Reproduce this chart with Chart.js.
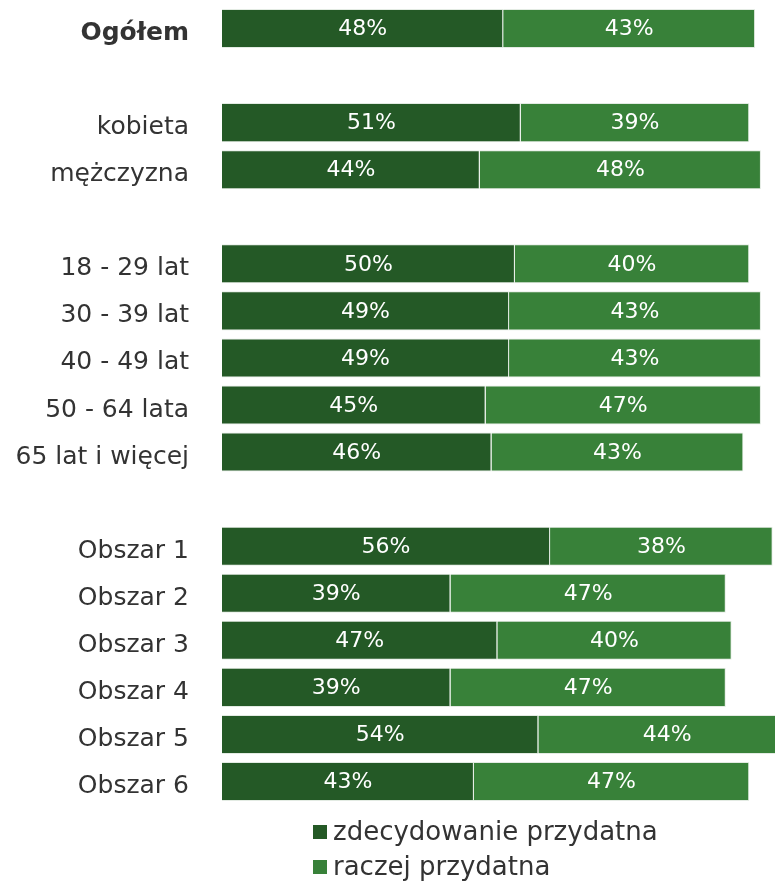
<!DOCTYPE html>
<html>
<head>
<meta charset="utf-8">
<script src="https://cdn.jsdelivr.net/npm/chart.js@4"></script>
<style>
  html, body { margin: 0; padding: 0; background: #fff; }
  #wrap { width: 775px; height: 881px; }
</style>
</head>
<body>
<div id="wrap"><canvas id="barChart"></canvas></div>
<script>
// categories (empty strings are spacer rows)
const categories = ['Ogółem', '', 'kobieta', 'mężczyzna', '', '18 - 29 lat', '30 - 39 lat', '40 - 49 lat',
  '50 - 64 lata', '65 lat i więcej', '', 'Obszar 1', 'Obszar 2', 'Obszar 3', 'Obszar 4', 'Obszar 5', 'Obszar 6'];
const definitelyUseful = [48, null, 51, 44, null, 50, 49, 49, 45, 46, null, 56, 39, 47, 39, 54, 43];
const ratherUseful = [43, null, 39, 48, null, 40, 43, 43, 47, 43, null, 38, 47, 40, 47, 44, 47];
const seriesLabels = ['zdecydowanie przydatna', 'raczej przydatna'];

const FONT = "'DejaVu Sans', sans-serif";
const darkGreen = '#245926';
const lightGreen = '#388139';

// value labels centred in each segment
const valueLabels = {
  id: 'valueLabels',
  afterDatasetsDraw(chart) {
    const ctx = chart.ctx;
    ctx.save();
    ctx.font = '22px ' + FONT;
    ctx.fillStyle = '#ffffff';
    ctx.textAlign = 'center';
    ctx.textBaseline = 'middle';
    chart.data.datasets.forEach((ds, i) => {
      chart.getDatasetMeta(i).data.forEach((bar, j) => {
        const v = ds.data[j];
        if (v == null) return;
        ctx.fillText(v + '%', (bar.x + bar.base) / 2, bar.y + 1);
      });
    });
    ctx.restore();
  }
};

// vertical legend under the bars
const stackedLegend = {
  id: 'stackedLegend',
  afterDraw(chart) {
    const ctx = chart.ctx;
    const top = chart.chartArea.bottom;
    ctx.save();
    ctx.font = '26px ' + FONT;
    ctx.textBaseline = 'middle';
    ctx.textAlign = 'left';
    chart.data.datasets.forEach((ds, i) => {
      const y = top + 27 + i * 35;
      ctx.fillStyle = ds.backgroundColor;
      ctx.fillRect(313, y - 7, 14, 14);
      ctx.fillStyle = '#333333';
      ctx.fillText(ds.label, 333, y + 1);
    });
    ctx.restore();
  }
};

const ctx = document.getElementById('barChart').getContext('2d');

const chart = new Chart(ctx, {
  type: 'bar',
  data: {
    labels: categories,
    datasets: [
      {
        label: seriesLabels[0],
        data: definitelyUseful,
        backgroundColor: darkGreen,
        borderColor: '#e3ebe3',
        borderWidth: 1
      },
      {
        label: seriesLabels[1],
        data: ratherUseful,
        backgroundColor: lightGreen,
        borderColor: '#e3ebe3',
        borderWidth: 1
      }
    ]
  },
  options: {
    indexAxis: 'y',
    responsive: true,
    maintainAspectRatio: false,
    animation: false,
    layout: { padding: { top: 5, bottom: 76, left: 0, right: 0 } },
    datasets: {
      bar: { categoryPercentage: 1, barPercentage: 0.83 }
    },
    scales: {
      x: {
        stacked: true,
        display: false,
        min: 0,
        max: 94.4
      },
      y: {
        stacked: true,
        grid: { display: false, drawTicks: false },
        border: { display: false },
        afterFit(scale) {
          scale.width = 222;
          scale.paddingTop = 0;
          scale.paddingBottom = 0;
        },
        ticks: {
          padding: 33,
          labelOffset: 5,
          color: '#333333',
          autoSkip: false,
          font: c => ({
            family: FONT,
            size: 25,
            weight: c.index === 0 ? 'bold' : 'normal'
          })
        }
      }
    },
    plugins: {
      legend: { display: false },
      tooltip: { enabled: false }
    }
  },
  plugins: [valueLabels, stackedLegend]
});
</script>
</body>
</html>
